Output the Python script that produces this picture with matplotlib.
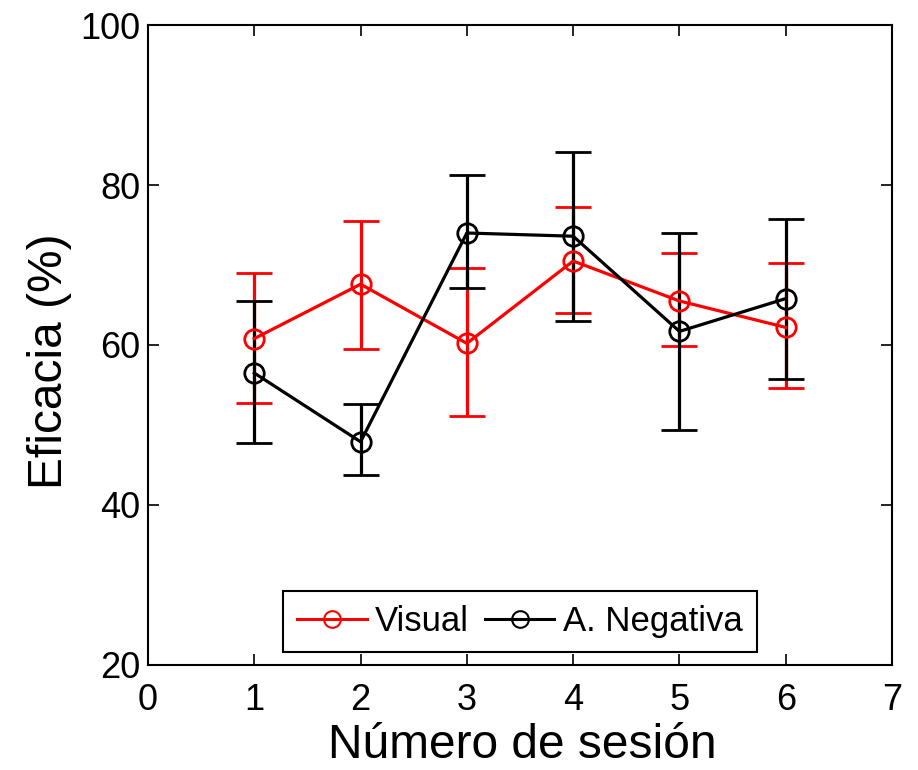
import matplotlib
matplotlib.use("Agg")
import matplotlib.pyplot as plt
from matplotlib.lines import Line2D
import numpy as np

plt.rcParams['font.family'] = ['Liberation Sans', 'DejaVu Sans']

sessions = [1, 2, 3, 4, 5, 6]
visual_mean = [60.8, 67.6, 60.2, 70.5, 65.5, 62.2]
visual_upper = [69.0, 75.5, 69.6, 77.3, 71.5, 70.3]
visual_lower = [52.8, 59.5, 51.1, 64.0, 59.9, 54.6]
neg_mean = [56.5, 47.9, 74.0, 73.6, 61.7, 65.8]
neg_upper = [65.5, 52.6, 81.3, 84.1, 74.0, 75.8]
neg_lower = [47.8, 43.8, 67.1, 63.0, 49.4, 55.8]
labels = ["Visual", "A. Negativa"]
xticks = [0, 1, 2, 3, 4, 5, 6, 7]
yticks = [20, 40, 60, 80, 100]

fig = plt.figure(figsize=(9.18, 7.7), dpi=100)
ax = fig.add_axes([0.1612, 0.1364, 0.9717 - 0.1612, 0.9675 - 0.1364])

def draw(mean, upper, lower, color):
    mean = np.array(mean); upper = np.array(upper); lower = np.array(lower)
    yerr = np.vstack([mean - lower, upper - mean])
    ax.errorbar(sessions, mean, yerr=yerr, color=color, lw=2.3, elinewidth=2.3,
                capsize=13, capthick=2.3, marker='o', markersize=14,
                markerfacecolor='none', markeredgecolor=color, markeredgewidth=2.0)

draw(visual_mean, visual_upper, visual_lower, 'red')
draw(neg_mean, neg_upper, neg_lower, 'black')

ax.set_xlim(0, 7)
ax.set_ylim(20, 100)
ax.set_xticks(xticks)
ax.set_yticks(yticks)
ax.tick_params(direction='in', top=True, right=True, length=8, width=1.2,
               labelsize=26)
ax.tick_params(axis='x', pad=13)
ax.tick_params(axis='y', pad=5.5)
for s in ax.spines.values():
    s.set_linewidth(1.5)
ax.set_xlabel("Número de sesión", fontsize=34.5)
ax.set_ylabel("Eficacia (%)", fontsize=34.5)
ax.xaxis.set_label_coords(0.503, -0.090)
ax.yaxis.set_label_coords(-0.102, 0.475)

handles = [Line2D([], [], color='red', lw=2.2, marker='o', markersize=12,
                  markerfacecolor='none', markeredgewidth=1.5),
           Line2D([], [], color='black', lw=2.2, marker='o', markersize=12,
                  markerfacecolor='none', markeredgewidth=1.5)]
leg = ax.legend(handles, labels, loc='lower center', ncol=2, fontsize=25,
                frameon=True, fancybox=False, edgecolor='black', framealpha=1,
                handlelength=2.0, handletextpad=0.25, columnspacing=0.45,
                borderpad=0.4, borderaxespad=0.0, bbox_to_anchor=(0.5, 0.02))
leg.get_frame().set_linewidth(1.5)

fig.savefig("out.png", dpi=100)
